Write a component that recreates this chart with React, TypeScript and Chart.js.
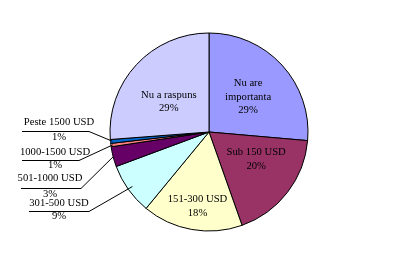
import React, { useEffect, useRef } from "react";
import { Chart, registerables } from "chart.js";

Chart.register(...registerables);

const categories = [
  "Nu are importanta",
  "Sub 150 USD",
  "151-300 USD",
  "301-500 USD",
  "501-1000 USD",
  "1000-1500 USD",
  "Peste 1500 USD",
  "Nu a raspuns",
];
const values = [29, 20, 18, 9.2, 3.6, 0.6, 0.7, 28.8];
const percentLabels = ["29%", "20%", "18%", "9%", "3%", "1%", "1%", "29%"];
const colors = [
  "#9999FF",
  "#993366",
  "#FFFFCC",
  "#CCFFFF",
  "#660066",
  "#FF8080",
  "#0066CC",
  "#CCCCFF",
];

const FONT = '10.67px "Liberation Serif", "Times New Roman", serif';
const deg = Math.PI / 180;

// label layout (inside labels: polar relative to slice mid angle)
const insideLayout: Record<number, { lines: string[]; rf: number; da: number }> = {
  0: { lines: ["Nu are", "importanta"], rf: 0.53, da: 0.6 },
  1: { lines: ["Sub 150 USD"], rf: 0.55, da: -7.8 },
  2: { lines: ["151-300 USD"], rf: 0.76, da: -1.2 },
  7: { lines: ["Nu a raspuns"], rf: 0.51, da: -5.6 },
};
// outside labels: text anchor and horizontal leader segment
const outsideLayout: Record<
  number,
  { cx: number; y1: number; lineY: number; x0: number; x1: number; y2: number; rf: number }
> = {
  6: { cx: 59, y1: 122, lineY: 131, x0: 22, x1: 89, y2: 137, rf: 0.98 },
  5: { cx: 55, y1: 152, lineY: 160, x0: 22, x1: 79, y2: 165, rf: 0.98 },
  4: { cx: 50, y1: 178, lineY: 188, x0: 21, x1: 81, y2: 194, rf: 1.0 },
  3: { cx: 59, y1: 203, lineY: 211, x0: 29, x1: 89, y2: 216, rf: 0.95 },
};

const labelPlugin = {
  id: "sliceLabels",
  afterDatasetsDraw(chart: any) {
    const ctx = chart.ctx as CanvasRenderingContext2D;
    const meta = chart.getDatasetMeta(0);
    ctx.save();
    ctx.font = FONT;
    ctx.fillStyle = "#000";
    ctx.strokeStyle = "#000";
    ctx.lineWidth = 1;
    ctx.textAlign = "center";
    ctx.textBaseline = "middle";
    meta.data.forEach((arc: any, i: number) => {
      const p = arc.getProps(["x", "y", "startAngle", "endAngle", "outerRadius"], true);
      const mid = (p.startAngle + p.endAngle) / 2;
      const ins = insideLayout[i];
      if (ins) {
        const a = mid + ins.da * deg;
        const lx = p.x + Math.cos(a) * p.outerRadius * ins.rf;
        const ly = p.y + Math.sin(a) * p.outerRadius * ins.rf;
        const lines = [...ins.lines, percentLabels[i]];
        const lh = 13.5;
        const top = ly - ((lines.length - 1) * lh) / 2;
        lines.forEach((t, k) => ctx.fillText(t, lx, top + k * lh));
      }
      const out = outsideLayout[i];
      if (out) {
        const tx = p.x + Math.cos(mid) * p.outerRadius * out.rf;
        const ty = p.y + Math.sin(mid) * p.outerRadius * out.rf;
        ctx.beginPath();
        ctx.moveTo(out.x0, out.lineY + 0.5);
        ctx.lineTo(out.x1, out.lineY + 0.5);
        ctx.lineTo(tx, ty);
        ctx.stroke();
        ctx.fillText(categories[i], out.cx, out.y1);
        ctx.fillText(percentLabels[i], out.cx, out.y2);
      }
    });
    ctx.restore();
  },
};

export default function App() {
  const ref = useRef<HTMLCanvasElement>(null);
  useEffect(() => {
    document.body.style.margin = "0";
    const chart = new Chart(ref.current!, {
      type: "pie",
      data: {
        labels: categories,
        datasets: [
          {
            data: values,
            backgroundColor: colors,
            borderColor: "#000",
            borderWidth: 1,
          },
        ],
      },
      options: {
        responsive: false,
        animation: false,
        devicePixelRatio: 1,
        layout: { padding: { left: 109.5, right: 84.5, top: 32.5, bottom: 35.5 } },
        plugins: {
          legend: { display: false },
          tooltip: { enabled: false },
        },
      },
      plugins: [labelPlugin],
    });
    return () => chart.destroy();
  }, []);
  return (
    <div style={{ width: 393, height: 267, background: "#fff" }}>
      <canvas ref={ref} width={393} height={267} style={{ display: "block" }} />
    </div>
  );
}
